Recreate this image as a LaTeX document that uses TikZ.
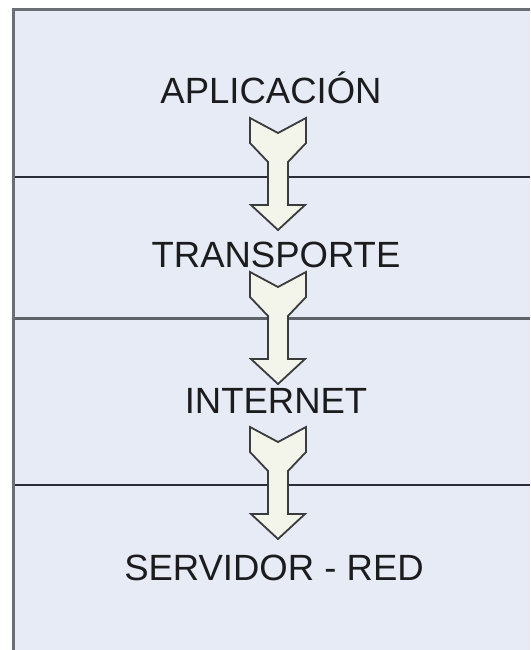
\documentclass[tikz,border=0pt]{standalone}
\usepackage{fontspec}
\setmainfont{Liberation Sans}
\definecolor{layerbg}{HTML}{E6EBF5}
\definecolor{framegray}{HTML}{6B6E75}
\definecolor{sepdark}{HTML}{2B2D38}
\definecolor{sepgray}{HTML}{5E626B}
\definecolor{arrowfill}{HTML}{F3F4EA}
\definecolor{arrowline}{HTML}{3A3B3D}
\definecolor{labeltext}{HTML}{1C1C1E}
\begin{document}
\begin{tikzpicture}[x=1pt,y=-1pt,
  layer/.style={anchor=base,inner sep=0pt,text=labeltext,font=\fontsize{36.5}{40}\selectfont},
  blockarrow/.style={draw=arrowline,fill=arrowfill,line width=1.8pt,line join=miter}]
\useasboundingbox (0,0) rectangle (530,650);
\fill[white] (0,0) rectangle (530,650);
\fill[layerbg] (13,10) rectangle (530,650);
% separadores entre capas
\draw[sepdark,line width=2pt] (13,177) -- (530,177);
\draw[sepgray,line width=3pt] (13,318) -- (530,318);
\draw[sepdark,line width=2pt] (13,485) -- (530,485);
\draw[framegray,line width=3pt] (13,650) -- (13,10) -- (530,10);
% capas
\node[layer] (apl) at (271,103) {APLICACIÓN};
\node[layer] (tra) at (276,267) {TRANSPORTE};
\node[layer] (inet) at (276,413) {INTERNET};
\node[layer] (red) at (274,580) {SERVIDOR - RED};
% flechas
\foreach \t in {118,272,427}
  \draw[blockarrow,shift={(278,\t)}] (-28,0) -- (0,15) -- (28,0) -- (28,25) -- (10,44)
    -- (10,87) -- (27,87) -- (0,112) -- (-27,87) -- (-10,87) -- (-10,44) -- (-28,25) -- cycle;
\end{tikzpicture}
\end{document}
